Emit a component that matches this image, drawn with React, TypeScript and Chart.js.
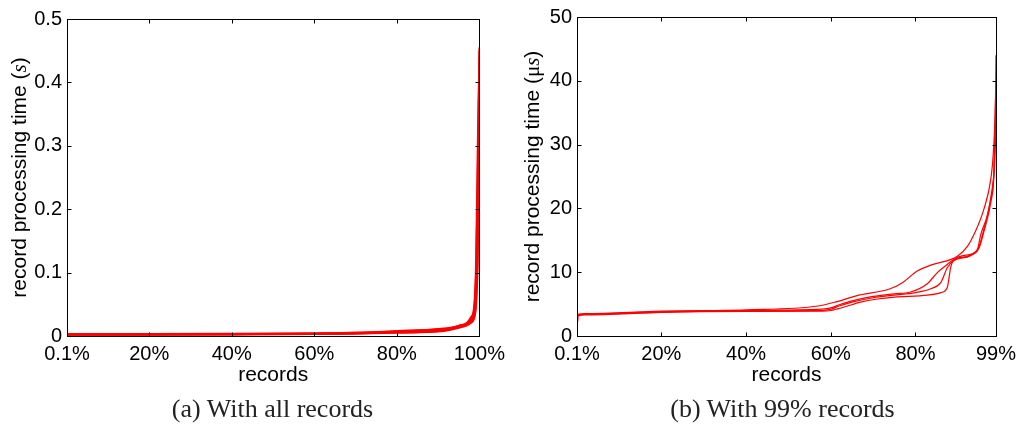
import React, { useEffect, useRef } from "react";
import { Chart, registerables } from "chart.js";

Chart.register(...registerables);

// ---------- Left chart: all records (seconds) ----------
const leftXTicks = [0.1, 20, 40, 60, 80, 100];
const leftYTicks = [0, 0.1, 0.2, 0.3, 0.4, 0.5];
const leftX = [0.1, 20, 40, 60, 70, 80, 85, 90, 93, 95, 97, 98, 98.7, 99.2, 99.6, 100];
const leftS1 = [0.003, 0.003, 0.003, 0.004, 0.005, 0.007, 0.008, 0.010, 0.012, 0.015, 0.019, 0.025, 0.035, 0.08, 0.2, 0.45];
const leftS2 = [0.002, 0.002, 0.0025, 0.003, 0.004, 0.005, 0.006, 0.008, 0.011, 0.014, 0.018, 0.022, 0.03, 0.06, 0.15, 0.42];
const leftS3 = [0.0025, 0.0025, 0.003, 0.0035, 0.0045, 0.008, 0.009, 0.0095, 0.012, 0.016, 0.02, 0.027, 0.04, 0.1, 0.25, 0.455];
const leftS4 = [0.002, 0.0022, 0.0025, 0.003, 0.004, 0.006, 0.006, 0.007, 0.010, 0.013, 0.017, 0.021, 0.028, 0.05, 0.12, 0.3];
const leftS5 = [0.003, 0.0032, 0.0035, 0.004, 0.005, 0.0065, 0.0085, 0.011, 0.013, 0.016, 0.021, 0.03, 0.045, 0.12, 0.3, 0.44];

// ---------- Right chart: 99% records (microseconds) ----------
const rightXTicks = [0.1, 20, 40, 60, 80, 99];
const rightYTicks = [0, 10, 20, 30, 40, 50];
const rightAx = [0.1, 0.3, 2, 20, 40, 57, 61.5, 66, 74, 77, 80.4, 83.6, 89.9, 92.3, 93.8, 96.2, 97.8, 98.4, 98.9, 99];
const rightAy = [0, 3.4, 3.5, 3.9, 4.1, 4.7, 5.4, 6.3, 7.4, 8.4, 10.2, 11.1, 12.5, 14.1, 15.9, 20, 24.7, 29, 38, 44];
const rightBx = [0.1, 0.3, 2, 20, 40, 58, 60, 63, 67, 71, 75, 82.8, 86, 87.5, 88.3, 89, 93, 94.6, 95.4, 97, 98.1, 98.7, 99];
const rightBy = [0, 3.2, 3.3, 3.7, 3.85, 3.9, 4.0, 4.5, 5.3, 5.8, 6.1, 6.4, 6.8, 7.6, 10.7, 11.9, 12.8, 13.5, 15.9, 19, 23.1, 27.2, 33];
const rightCx = [0.1, 0.3, 2, 20, 40, 58, 60, 62, 65, 70, 75, 78.8, 82.8, 85.1, 87.5, 89, 93, 95, 96.2, 97.8, 98.5, 99];
const rightCy = [0, 3.3, 3.4, 3.8, 4.0, 4.2, 4.4, 4.9, 5.5, 6.2, 6.6, 6.9, 8.2, 9.9, 11.2, 12, 12.7, 14, 16.9, 21.6, 25.7, 40];
const rightDx = [0.1, 0.3, 2, 20, 40, 58, 60, 62, 65, 70, 75, 80, 83.6, 86, 87.5, 89, 93, 95, 96.2, 97.8, 98.5, 99];
const rightDy = [0, 3.3, 3.4, 3.75, 3.95, 4.0, 4.2, 4.7, 5.3, 6.0, 6.4, 6.8, 7.4, 8.4, 10.7, 11.8, 12.6, 13.8, 16.5, 21, 25, 36];

const SANS = "'Liberation Sans', Arial, Helvetica, sans-serif";
const SERIF = "'Liberation Serif', 'Times New Roman', serif";

const toPts = (xs: number[], ys: number[]) => xs.map((x, i) => ({ x, y: ys[i] }));

const framePlugin = {
  id: "frameTicks",
  afterDatasetsDraw(chart: any, _args: any, opts: any) {
    const { ctx, chartArea: a, scales } = chart;
    const L = Math.round(a.left) + 0.5;
    const R = Math.round(a.right) + 0.5;
    const T = Math.round(a.top) + 0.5;
    const B = Math.round(a.bottom) + 0.5;
    ctx.save();
    ctx.strokeStyle = "#000";
    ctx.lineWidth = 1;
    ctx.strokeRect(L, T, R - L, B - T);
    const tl = 4;
    ctx.beginPath();
    scales.x.ticks.forEach((t: any) => {
      const px = Math.round(scales.x.getPixelForValue(t.value)) + 0.5;
      ctx.moveTo(px, B);
      ctx.lineTo(px, B - tl);
      ctx.moveTo(px, T);
      ctx.lineTo(px, T + tl);
    });
    scales.y.ticks.forEach((t: any) => {
      const py = Math.round(scales.y.getPixelForValue(t.value)) + 0.5;
      ctx.moveTo(L, py);
      ctx.lineTo(L + tl, py);
      ctx.moveTo(R, py);
      ctx.lineTo(R - tl, py);
    });
    ctx.stroke();

    // y axis title with mixed fonts
    const parts: { text: string; font: string }[] = opts.parts || [];
    const cy = (a.top + a.bottom) / 2 + (opts.dy || 0);
    ctx.translate(opts.x, cy);
    ctx.rotate(-Math.PI / 2);
    ctx.fillStyle = "#000";
    ctx.textBaseline = "middle";
    ctx.textAlign = "left";
    let total = 0;
    parts.forEach((p) => {
      ctx.font = p.font;
      total += ctx.measureText(p.text).width;
    });
    let cx = -total / 2;
    parts.forEach((p) => {
      ctx.font = p.font;
      ctx.fillText(p.text, cx, 0);
      cx += ctx.measureText(p.text).width;
    });
    ctx.restore();
  },
};

function makeConfig(opts: {
  datasets: any[];
  xMin: number;
  xMax: number;
  xTicks: number[];
  yMax: number;
  yTicks: number[];
  yWidth: number;
  padTop: number;
  padRight: number;
  xHeight: number;
  titleParts: { text: string; font: string }[];
  titleX: number;
}) {
  return {
    type: "line",
    data: { datasets: opts.datasets },
    options: {
      animation: false,
      responsive: false,
      maintainAspectRatio: false,
      parsing: false,
      layout: { padding: { left: 0, top: opts.padTop, right: opts.padRight, bottom: 0 } },
      plugins: {
        legend: { display: false },
        tooltip: { enabled: false },
        frameTicks: { parts: opts.titleParts, x: opts.titleX },
      },
      elements: { point: { radius: 0 } },
      scales: {
        x: {
          type: "linear",
          min: opts.xMin,
          max: opts.xMax,
          afterBuildTicks: (s: any) => {
            s.ticks = opts.xTicks.map((v) => ({ value: v }));
          },
          afterFit: (s: any) => {
            s.height = opts.xHeight;
          },
          grid: { display: false, drawTicks: false },
          border: { display: false },
          ticks: {
            autoSkip: false,
            maxRotation: 0,
            padding: 6,
            color: "#000",
            font: { family: SANS, size: 20 },
            callback: (v: any) => `${v}%`,
          },
          title: {
            display: true,
            text: "records",
            color: "#000",
            font: { family: SANS, size: 21 },
            padding: { top: 0, bottom: 7 },
          },
        },
        y: {
          type: "linear",
          min: 0,
          max: opts.yMax,
          afterBuildTicks: (s: any) => {
            s.ticks = opts.yTicks.map((v) => ({ value: v }));
          },
          afterFit: (s: any) => {
            s.width = opts.yWidth;
          },
          grid: { display: false, drawTicks: false },
          border: { display: false },
          ticks: {
            padding: 5,
            color: "#000",
            font: { family: SANS, size: 20 },
            callback: (v: any) => `${v}`,
          },
        },
      },
    },
    plugins: [framePlugin],
  } as any;
}

function ChartCanvas({ config, style }: { config: any; style: React.CSSProperties }) {
  const ref = useRef<HTMLCanvasElement | null>(null);
  useEffect(() => {
    if (!ref.current) return;
    const chart = new Chart(ref.current, config);
    return () => chart.destroy();
  }, [config]);
  return <canvas ref={ref} width={511} height={395} style={style} />;
}

const red = "#ff0000";

const leftConfig = makeConfig({
  datasets: [leftS1, leftS2, leftS3, leftS4, leftS5].map((s) => ({
    data: toPts(leftX, s),
    borderColor: red,
    borderWidth: 2,
    cubicInterpolationMode: "monotone",
    fill: false,
  })),
  xMin: 0.1,
  xMax: 100,
  xTicks: leftXTicks,
  yMax: 0.5,
  yTicks: leftYTicks,
  yWidth: 67,
  padTop: 19,
  padRight: 31,
  xHeight: 59,
  titleParts: [
    { text: "record processing time (", font: `21px ${SANS}` },
    { text: "s", font: `italic 21px ${SERIF}` },
    { text: ")", font: `21px ${SANS}` },
  ],
  titleX: 20,
});

const rightConfig = makeConfig({
  datasets: [
    [rightAx, rightAy],
    [rightBx, rightBy],
    [rightCx, rightCy],
    [rightDx, rightDy],
  ].map(([xs, ys]) => ({
    data: toPts(xs, ys),
    borderColor: red,
    borderWidth: 1.2,
    cubicInterpolationMode: "monotone",
    fill: false,
  })),
  xMin: 0.1,
  xMax: 99,
  xTicks: rightXTicks,
  yMax: 50,
  yTicks: rightYTicks,
  yWidth: 66,
  padTop: 13,
  padRight: 26,
  xHeight: 59,
  titleParts: [
    { text: "record processing time (", font: `21px ${SANS}` },
    { text: "μ", font: `21px ${SERIF}` },
    { text: "s", font: `italic 21px ${SERIF}` },
    { text: ")", font: `21px ${SANS}` },
  ],
  titleX: 22,
});

export default function App() {
  const captionStyle: React.CSSProperties = {
    position: "absolute",
    top: 396,
    width: 511,
    textAlign: "center",
    fontFamily: SERIF,
    fontSize: 26,
    lineHeight: "26px",
    color: "#222",
    whiteSpace: "nowrap",
  };
  return (
    <div style={{ position: "absolute", left: 0, top: 0, width: 1022, height: 428, background: "#fff", overflow: "hidden" }}>
      <ChartCanvas config={leftConfig} style={{ position: "absolute", left: 0, top: 0, width: 511, height: 395 }} />
      <ChartCanvas config={rightConfig} style={{ position: "absolute", left: 511, top: 0, width: 511, height: 395 }} />
      <div style={{ ...captionStyle, left: 17 }}>(a) With all records</div>
      <div style={{ ...captionStyle, left: 527 }}>(b) With 99% records</div>
    </div>
  );
}
